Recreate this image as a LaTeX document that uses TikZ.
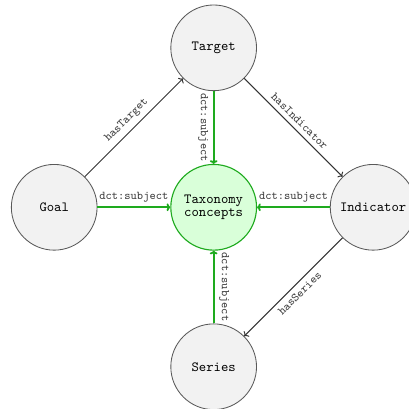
\documentclass[tikz,border=0pt]{standalone}
\usetikzlibrary{positioning,arrows.meta}
\definecolor{subjgreen}{RGB}{30,170,30}

\begin{document}
\begin{tikzpicture}[
    node distance=4cm, on grid,
    >={To[length=2.6pt,width=5.5pt]},
    class/.style={circle, draw=black!65, line width=0.6pt, fill=black!5, minimum size=2.15cm, font=\ttfamily},
    concept/.style={circle, draw=subjgreen, line width=0.8pt, fill=green!15, minimum size=2.15cm,
      align=center, font=\ttfamily\fontsize{10}{8.6}\selectfont},
    rel/.style={font=\ttfamily\fontsize{8.5}{10}\selectfont, text=black!75},
    link/.style={->, line width=0.7pt, draw=black!80},
    subj/.style={->, line width=1.3pt, subjgreen},
  ]
  \useasboundingbox (-5.36,-5.05) rectangle (4.90,5.20);
  % Tell it where the nodes are
  \node[concept] (tax) {Taxonomy\\concepts};
  \node[class] (target) [above=of tax] {Target};
  \node[class] (goal) [left=of tax] {Goal};
  \node[class] (indicator) [right=of tax] {Indicator};
  \node[class] (series) [below=of tax] {Series};
  % Tell it what arrows to draw
  \draw[link] (goal) -- node[rel, sloped, above] {hasTarget} (target);
  \draw[link] (target) -- node[rel, sloped, above] {hasIndicator} (indicator);
  \draw[link] (indicator) -- node[rel, sloped, below] {hasSeries} (series);
  \draw[subj] (goal) -- node[rel, above] {dct:subject} (tax);
  \draw[subj] (indicator) -- node[rel, above] {dct:subject} (tax);
  \draw[subj] (target) -- node[rel, sloped, below] {dct:subject} (tax);
  \draw[subj, <-] (tax) -- node[rel, sloped, above] {dct:subject} (series);
\end{tikzpicture}
\end{document}
